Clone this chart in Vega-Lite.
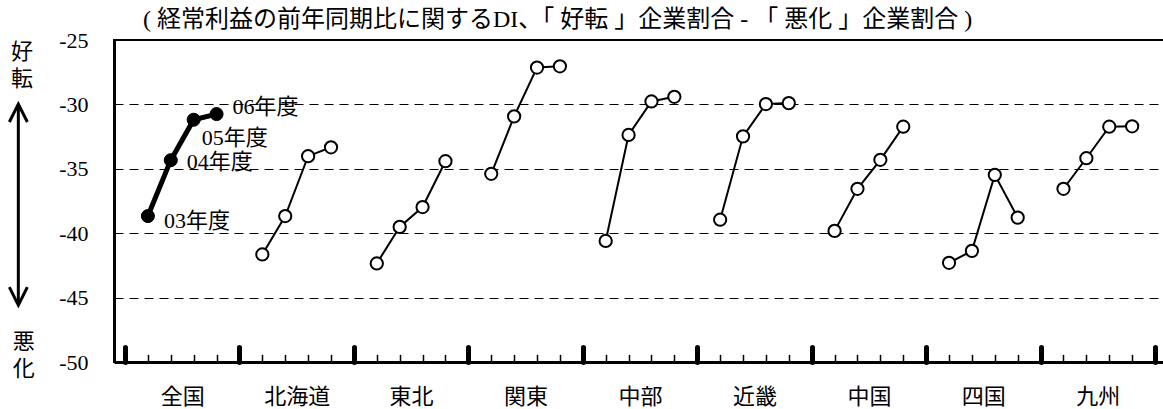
{
  "$schema": "https://vega.github.io/schema/vega-lite/v6.json",
  "width": 1055,
  "height": 322,
  "autosize": {"type": "none"},
  "padding": {"left": 114, "top": 40, "right": 0, "bottom": 47},
  "background": "white",
  "config": {
    "view": {"stroke": "black", "strokeWidth": 2},
    "font": "Liberation Serif, Noto Sans CJK JP"
  },
  "title": {
    "text": "( 経常利益の前年同期比に関するDI、「 好転 」企業割合 - 「 悪化 」企業割合 )",
    "anchor": "start",
    "frame": "group",
    "dx": 29,
    "offset": -27,
    "baseline": "bottom",
    "font": "Liberation Serif, Noto Sans CJK JP",
    "fontSize": 24,
    "fontWeight": "normal",
    "color": "black"
  },
  "data": {
    "values": [
      {"region": "全国", "year": "03年度", "value": -38.67},
      {"region": "全国", "year": "04年度", "value": -34.33},
      {"region": "全国", "year": "05年度", "value": -31.19},
      {"region": "全国", "year": "06年度", "value": -30.75},
      {"region": "北海道", "year": "03年度", "value": -41.65},
      {"region": "北海道", "year": "04年度", "value": -38.67},
      {"region": "北海道", "year": "05年度", "value": -34.02},
      {"region": "北海道", "year": "06年度", "value": -33.33},
      {"region": "東北", "year": "03年度", "value": -42.35},
      {"region": "東北", "year": "04年度", "value": -39.51},
      {"region": "東北", "year": "05年度", "value": -37.97},
      {"region": "東北", "year": "06年度", "value": -34.41},
      {"region": "関東", "year": "03年度", "value": -35.39},
      {"region": "関東", "year": "04年度", "value": -30.93},
      {"region": "関東", "year": "05年度", "value": -27.14},
      {"region": "関東", "year": "06年度", "value": -27.04},
      {"region": "中部", "year": "03年度", "value": -40.6},
      {"region": "中部", "year": "04年度", "value": -32.37},
      {"region": "中部", "year": "05年度", "value": -29.77},
      {"region": "中部", "year": "06年度", "value": -29.41},
      {"region": "近畿", "year": "03年度", "value": -38.95},
      {"region": "近畿", "year": "04年度", "value": -32.48},
      {"region": "近畿", "year": "05年度", "value": -29.97},
      {"region": "近畿", "year": "06年度", "value": -29.9},
      {"region": "中国", "year": "03年度", "value": -39.82},
      {"region": "中国", "year": "04年度", "value": -36.55},
      {"region": "中国", "year": "05年度", "value": -34.3},
      {"region": "中国", "year": "06年度", "value": -31.73},
      {"region": "四国", "year": "03年度", "value": -42.3},
      {"region": "四国", "year": "04年度", "value": -41.37},
      {"region": "四国", "year": "05年度", "value": -35.47},
      {"region": "四国", "year": "06年度", "value": -38.79},
      {"region": "九州", "year": "03年度", "value": -36.55},
      {"region": "九州", "year": "04年度", "value": -34.18},
      {"region": "九州", "year": "05年度", "value": -31.73},
      {"region": "九州", "year": "06年度", "value": -31.7}
    ]
  },
  "resolve": {"axis": {"x": "independent", "y": "independent"}},
  "layer": [
    {
      "transform": [
        {"calculate": "indexof(['全国','北海道','東北','関東','中部','近畿','中国','四国','九州'], datum.region) * 5 + indexof(['03年度','04年度','05年度','06年度'], datum.year) + 1", "as": "slot"}
      ],
      "encoding": {
        "x": {
          "field": "slot",
          "type": "quantitative",
          "scale": {"domain": [-0.4806, 45.61], "nice": false, "zero": false},
          "axis": {
            "title": null,
            "grid": false,
            "values": [0,1,2,3,4,5,6,7,8,9,10,11,12,13,14,15,16,17,18,19,20,21,22,23,24,25,26,27,28,29,30,31,32,33,34,35,36,37,38,39,40,41,42,43,44,45,2.5,7.5,12.5,17.5,22.5,27.5,32.5,37.5,42.5],
            "labelExpr": "datum.value % 1 !== 0 ? ['全国','北海道','東北','関東','中部','近畿','中国','四国','九州'][floor(datum.value / 5)] : ''",
            "labelFont": "Noto Sans CJK JP",
            "labelFontSize": 22,
            "labelColor": "black",
            "labelPadding": 24,
            "labelFlush": false,
            "labelOverlap": false,
            "labelBound": false,
            "domainColor": "black",
            "domainWidth": 3,
            "tickColor": "black",
            "tickCap": "round",
            "tickSize": {"condition": [{"test": "datum.value % 1 !== 0", "value": 0}, {"test": "datum.value % 5 === 0", "value": -15}], "value": -7},
            "tickWidth": {"condition": {"test": "datum.value % 5 === 0", "value": 5}, "value": 1.5},
            "tickOpacity": {"condition": {"test": "datum.value % 1 !== 0", "value": 0}, "value": 1}
          }
        },
        "y": {
          "field": "value",
          "type": "quantitative",
          "scale": {"domain": [-50, -25], "nice": false, "zero": false},
          "axis": {
            "title": null,
            "values": [-50, -45, -40, -35, -30, -25],
            "labelExpr": "'' + datum.value",
            "ticks": false,
            "labelFont": "Liberation Serif",
            "labelFontSize": 22,
            "labelColor": "black",
            "labelPadding": 26,
            "labelFlush": false,
            "domainColor": "black",
            "domainWidth": 3,
            "grid": true,
            "gridColor": "black",
            "gridWidth": 1,
            "gridDash": [9, 6],
            "gridOpacity": {"condition": {"test": "datum.value === -50 || datum.value === -25", "value": 0}, "value": 1}
          }
        }
      },
      "layer": [
        {
          "transform": [{"filter": "datum.region !== '全国'"}],
          "mark": {"type": "line", "color": "black", "strokeWidth": 2},
          "encoding": {"detail": {"field": "region"}}
        },
        {
          "transform": [{"filter": "datum.region !== '全国'"}],
          "mark": {"type": "point", "filled": true, "fill": "white", "stroke": "black", "strokeWidth": 2, "size": 150, "opacity": 1}
        },
        {
          "transform": [{"filter": "datum.region === '全国'"}],
          "mark": {"type": "line", "color": "black", "strokeWidth": 5}
        },
        {
          "transform": [{"filter": "datum.region === '全国'"}],
          "mark": {"type": "point", "filled": true, "fill": "black", "stroke": "black", "strokeWidth": 1, "size": 170, "opacity": 1}
        },
        {
          "transform": [{"filter": "datum.region === '全国' && datum.year === '06年度'"}],
          "mark": {"type": "text", "align": "left", "baseline": "middle", "dx": 16, "dy": -7, "fontSize": 22, "color": "black", "font": "Liberation Serif, Noto Sans CJK JP"},
          "encoding": {"text": {"field": "year"}}
        },
        {
          "transform": [{"filter": "datum.region === '全国' && datum.year === '05年度'"}],
          "mark": {"type": "text", "align": "left", "baseline": "middle", "dx": 8, "dy": 18, "fontSize": 22, "color": "black", "font": "Liberation Serif, Noto Sans CJK JP"},
          "encoding": {"text": {"field": "year"}}
        },
        {
          "transform": [{"filter": "datum.region === '全国' && datum.year === '04年度'"}],
          "mark": {"type": "text", "align": "left", "baseline": "middle", "dx": 16, "dy": 2, "fontSize": 22, "color": "black", "font": "Liberation Serif, Noto Sans CJK JP"},
          "encoding": {"text": {"field": "year"}}
        },
        {
          "transform": [{"filter": "datum.region === '全国' && datum.year === '03年度'"}],
          "mark": {"type": "text", "align": "left", "baseline": "middle", "dx": 16, "dy": 5, "fontSize": 22, "color": "black", "font": "Liberation Serif, Noto Sans CJK JP"},
          "encoding": {"text": {"field": "year"}}
        }
      ]
    },
    {
      "data": {"values": [{"label": ["好", "転"]}]},
      "mark": {"type": "text", "align": "center", "baseline": "middle", "fontSize": 22, "lineHeight": 27, "color": "black", "font": "Noto Sans CJK JP", "clip": false},
      "encoding": {
        "x": {"datum": -4.5, "type": "quantitative", "axis": null},
        "y": {"datum": -25.91, "type": "quantitative", "axis": null},
        "text": {"field": "label"}
      }
    },
    {
      "data": {"values": [{"label": ["悪", "化"]}]},
      "mark": {"type": "text", "align": "center", "baseline": "middle", "fontSize": 22, "lineHeight": 27, "color": "black", "font": "Noto Sans CJK JP", "clip": false},
      "encoding": {
        "x": {"datum": -4.42, "type": "quantitative", "axis": null},
        "y": {"datum": -48.42, "type": "quantitative", "axis": null},
        "text": {"field": "label"}
      }
    },
    {
      "data": {"values": [{"arrow": "shaft"}]},
      "mark": {"type": "rule", "color": "black", "strokeWidth": 3, "clip": false},
      "encoding": {
        "x": {"datum": -4.66, "type": "quantitative", "axis": null},
        "y": {"datum": -30.05, "type": "quantitative", "axis": null},
        "y2": {"datum": -45.5}
      }
    },
    {
      "data": {"values": [{"arrow": "up"}]},
      "mark": {"type": "point", "shape": "M-1,1L0,-1L1,1", "filled": false, "stroke": "black", "strokeWidth": 3, "size": 324, "opacity": 1, "clip": false, "strokeJoin": "miter"},
      "encoding": {
        "x": {"datum": -4.66, "type": "quantitative", "axis": null},
        "y": {"datum": -30.67, "type": "quantitative", "axis": null}
      }
    },
    {
      "data": {"values": [{"arrow": "down"}]},
      "mark": {"type": "point", "shape": "M-1,-1L0,1L1,-1", "filled": false, "stroke": "black", "strokeWidth": 3, "size": 324, "opacity": 1, "clip": false, "strokeJoin": "miter"},
      "encoding": {
        "x": {"datum": -4.66, "type": "quantitative", "axis": null},
        "y": {"datum": -44.88, "type": "quantitative", "axis": null}
      }
    }
  ]
}
